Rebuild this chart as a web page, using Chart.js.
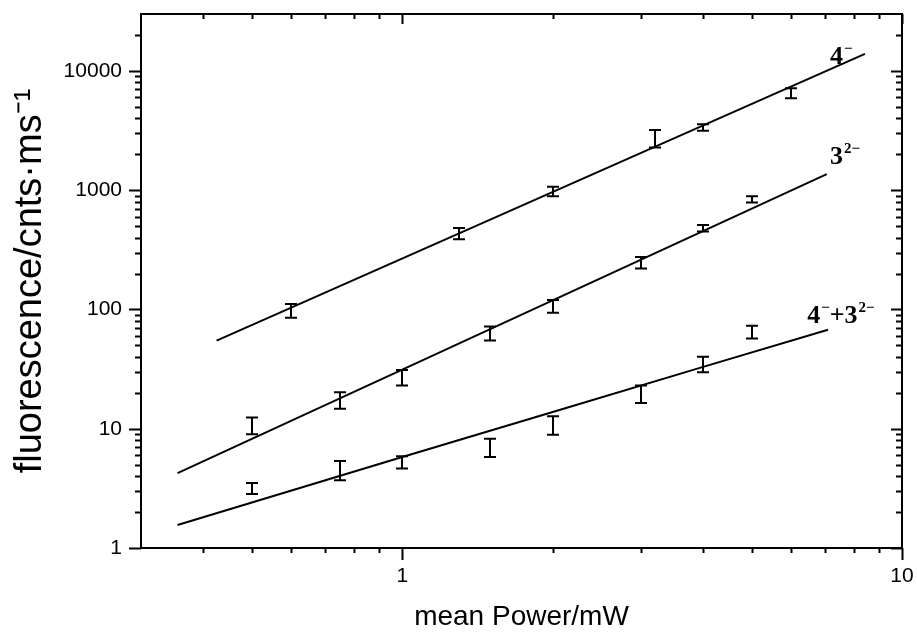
<!DOCTYPE html>
<html>
<head>
<meta charset="utf-8">
<title>fluorescence vs mean power</title>
<script src="https://cdn.jsdelivr.net/npm/chart.js@4.4.1/dist/chart.umd.min.js"></script>
<style>
  html, body { margin: 0; padding: 0; background: #fff; }
  #wrap { width: 917px; height: 637px; }
</style>
</head>
<body>
<div id="wrap"><canvas id="chart" width="917" height="637"></canvas></div>
<script>
// axis ticks (log-log)
const xMajor = [1, 10];
const xMinor = [0.4, 0.5, 0.6, 0.7, 0.8, 0.9, 2, 3, 4, 5, 6, 7, 8, 9];
const yMajor = [1, 10, 100, 1000, 10000];
const yMinor = [2, 3, 4, 5, 6, 7, 8, 9, 20, 30, 40, 50, 60, 70, 80, 90,
  200, 300, 400, 500, 600, 700, 800, 900, 2000, 3000, 4000, 5000, 6000, 7000, 8000, 9000, 20000];

// 4- : measured points (error bar low/high) and fitted line
const p4X    = [0.6, 1.3, 2, 3.2, 4, 6];
const p4Low  = [85, 387, 890, 2280, 3150, 5890];
const p4High = [111, 483, 1070, 3200, 3570, 7140];
const fit4X  = [0.425, 8.43];
const fit4Y  = [54.7, 13900];

// 3(2-)
const p3X    = [0.5, 0.75, 1, 1.5, 2, 3, 4, 5];
const p3Low  = [9.0, 14.7, 23, 55, 94, 221, 450, 790];
const p3High = [12.4, 20.2, 31, 72, 120, 275, 510, 890];
const fit3X  = [0.355, 7.07];
const fit3Y  = [4.24, 1365];

// 4- + 3(2-)
const pSX    = [0.5, 0.75, 1, 1.5, 2, 3, 4, 5];
const pSLow  = [2.83, 3.7, 4.63, 5.8, 8.9, 16.4, 29.7, 57];
const pSHigh = [3.51, 5.36, 5.87, 8.25, 12.7, 23, 40.2, 73];
const fitSX  = [0.355, 1, 2, 4, 7.11];
const fitSY  = [1.56, 5.8, 13.8, 33, 67.6];

const FONT = '"Liberation Sans", Arial, sans-serif';
const SERIF = '"Liberation Serif", "Times New Roman", serif';

const toPts = (xs, ys) => xs.map((v, i) => ({ x: v, y: ys[i] }));
const lineDs = (xs, ys) => ({
  data: toPts(xs, ys), showLine: true, pointRadius: 0,
  borderColor: '#000', borderWidth: 2, fill: false, tension: 0
});

const errorSets = [
  { x: p4X, low: p4Low, high: p4High },
  { x: p3X, low: p3Low, high: p3High },
  { x: pSX, low: pSLow, high: pSHigh }
];

// curve labels: [text, superscript?] parts, anchored at a data point
const curveLabels = [
  { parts: [['4', false], ['\u2212', true]], at: [7.18, 11500] },
  { parts: [['3', false], ['2\u2212', true]], at: [7.18, 1645] },
  { parts: [['4', false], ['\u2212', true], ['+3', false], ['2\u2212', true]], at: [6.46, 77.3] }
];

const whiteBg = {
  id: 'whiteBg',
  beforeDraw(chart) {
    const c = chart.ctx;
    c.save(); c.fillStyle = '#fff'; c.fillRect(0, 0, chart.width, chart.height); c.restore();
  }
};

const frameTicks = {
  id: 'frameTicks',
  afterDraw(chart) {
    const { ctx, chartArea: a, scales: { x, y } } = chart;
    ctx.save();
    ctx.strokeStyle = '#000';
    ctx.lineWidth = 2;
    ctx.strokeRect(a.left, a.top, a.right - a.left, a.bottom - a.top);
    ctx.beginPath();
    const xt = (v, outB, inT) => {
      const px = Math.round(x.getPixelForValue(v)) + 0.5;
      ctx.moveTo(px, a.bottom); ctx.lineTo(px, a.bottom + outB);
      ctx.moveTo(px, a.top); ctx.lineTo(px, a.top + inT);
    };
    const yt = (v, outL, inR) => {
      const py = Math.round(y.getPixelForValue(v)) + 0.5;
      ctx.moveTo(a.left, py); ctx.lineTo(a.left - outL, py);
      ctx.moveTo(a.right, py); ctx.lineTo(a.right - inR, py);
    };
    xMajor.forEach(v => xt(v, 12, 10));
    xMinor.forEach(v => xt(v, 5, 5));
    yMajor.forEach(v => yt(v, 12, 11));
    yMinor.forEach(v => yt(v, 6, 6));
    ctx.stroke();
    ctx.restore();
  }
};

const errorBars = {
  id: 'errorBars',
  afterDatasetsDraw(chart) {
    const { ctx, scales: { x, y } } = chart;
    ctx.save();
    ctx.strokeStyle = '#000';
    ctx.lineWidth = 2;
    ctx.beginPath();
    errorSets.forEach(s => {
      s.x.forEach((v, i) => {
        const px = Math.round(x.getPixelForValue(v));
        const top = y.getPixelForValue(s.high[i]);
        const bot = y.getPixelForValue(s.low[i]);
        ctx.moveTo(px, top); ctx.lineTo(px, bot);
        ctx.moveTo(px - 6, top); ctx.lineTo(px + 6, top);
        ctx.moveTo(px - 6, bot); ctx.lineTo(px + 6, bot);
      });
    });
    ctx.stroke();
    ctx.restore();
  }
};

const labelPlugin = {
  id: 'curveLabels',
  afterDatasetsDraw(chart) {
    const { ctx, scales: { x, y } } = chart;
    ctx.save();
    ctx.fillStyle = '#000';
    ctx.textBaseline = 'alphabetic';
    ctx.textAlign = 'left';
    curveLabels.forEach(l => {
      let px = x.getPixelForValue(l.at[0]);
      const py = y.getPixelForValue(l.at[1]);
      l.parts.forEach(([t, sup]) => {
        ctx.font = sup ? 'bold 15px ' + SERIF : 'bold 26px ' + SERIF;
        ctx.fillText(t, px, sup ? py - 11 : py);
        px += ctx.measureText(t).width + (sup ? 0 : 1);
      });
    });
    ctx.restore();
  }
};

new Chart(document.getElementById('chart'), {
  type: 'scatter',
  data: {
    datasets: [
      lineDs(fit4X, fit4Y),
      lineDs(fit3X, fit3Y),
      lineDs(fitSX, fitSY)
    ]
  },
  options: {
    responsive: false,
    animation: false,
    layout: { padding: { left: 0, top: 14, right: 15, bottom: 0 } },
    plugins: { legend: { display: false }, tooltip: { enabled: false } },
    scales: {
      x: {
        type: 'logarithmic', min: 0.3, max: 10,
        afterBuildTicks: s => { s.ticks = xMajor.map(v => ({ value: v })); },
        afterFit: s => { s.height = 89; s.paddingLeft = 0; s.paddingRight = 0; },
        ticks: { callback: v => String(v), color: '#000', font: { family: FONT, size: 21 },
                 padding: 16, maxRotation: 0, autoSkip: false },
        grid: { display: false, drawTicks: false },
        border: { display: false },
        title: { display: true, text: 'mean Power/mW', color: '#000',
                 font: { family: FONT, size: 28 }, padding: { top: 0, bottom: 3 } }
      },
      y: {
        type: 'logarithmic', min: 1, max: 30000,
        afterBuildTicks: s => { s.ticks = yMajor.map(v => ({ value: v })); },
        afterFit: s => { s.width = 141; s.paddingTop = 0; s.paddingBottom = 0; },
        ticks: { callback: v => String(v), color: '#000', font: { family: FONT, size: 21 },
                 padding: 19, autoSkip: false },
        grid: { display: false, drawTicks: false },
        border: { display: false },
        title: { display: true, text: 'fluorescence/cnts\u00b7ms\u207b\u00b9', color: '#000',
                 font: { family: FONT, size: 38 }, padding: { top: 8, bottom: 0 } }
      }
    }
  },
  plugins: [whiteBg, errorBars, labelPlugin, frameTicks]
});
</script>
</body>
</html>
